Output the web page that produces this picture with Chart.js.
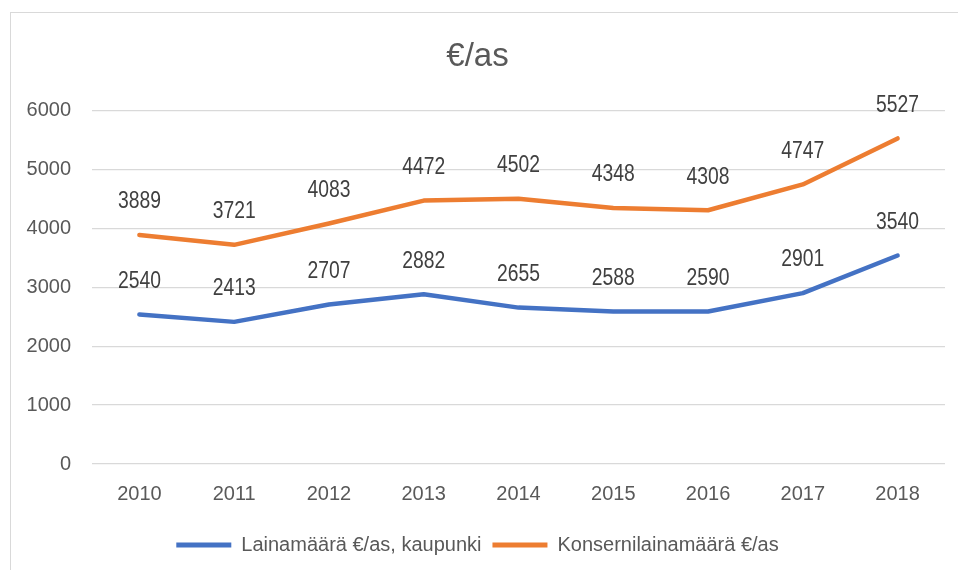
<!DOCTYPE html>
<html>
<head>
<meta charset="utf-8">
<script src="https://cdn.jsdelivr.net/npm/chart.js@4"></script>
<style>
  html, body { margin: 0; padding: 0; background: #fff; }
  #wrap { position: relative; width: 958px; height: 570px; overflow: hidden; }
  #frame { position: absolute; left: 10px; top: 12px; width: 960px; height: 570px; border: 1px solid #d9d9d9; box-sizing: border-box; }
  canvas { position: absolute; left: 0; top: 0; }
</style>
</head>
<body>
<div id="wrap">
  <div id="frame"></div>
  <canvas id="lineChart" width="958" height="570"></canvas>
</div>
<script>
const years = ['2010', '2011', '2012', '2013', '2014', '2015', '2016', '2017', '2018'];
const cityLoan = [2540, 2413, 2707, 2882, 2655, 2588, 2590, 2901, 3540];
const groupLoan = [3889, 3721, 4083, 4472, 4502, 4348, 4308, 4747, 5527];
const yTicks = [0, 1000, 2000, 3000, 4000, 5000, 6000];

const FONT = '"Liberation Sans", Arial, sans-serif';

// Draws the value above each point, like Excel data labels (squeezed to look like a narrow font)
const valueLabels = {
    id: 'valueLabels',
    afterDatasetsDraw(chart) {
        const ctx = chart.ctx;
        chart.data.datasets.forEach((ds, i) => {
            chart.getDatasetMeta(i).data.forEach((pt, j) => {
                ctx.save();
                ctx.translate(pt.x, pt.y - 33);
                ctx.scale(0.84, 1);
                ctx.font = '23px ' + FONT;
                ctx.fillStyle = '#404040';
                ctx.textAlign = 'center';
                ctx.textBaseline = 'middle';
                ctx.fillText(String(ds.data[j]), 0, 0);
                ctx.restore();
            });
        });
    }
};

const ctx = document.getElementById('lineChart').getContext('2d');
new Chart(ctx, {
    type: 'line',
    data: {
        labels: years,
        datasets: [{
            label: 'Lainamäärä €/as, kaupunki',
            data: cityLoan,
            borderColor: '#4472C4',
            backgroundColor: '#4472C4',
            borderWidth: 4.5,
            borderCapStyle: 'round',
            borderJoinStyle: 'round',
            pointRadius: 0,
            tension: 0
        }, {
            label: 'Konsernilainamäärä €/as',
            data: groupLoan,
            borderColor: '#ED7D31',
            backgroundColor: '#ED7D31',
            borderWidth: 4.5,
            borderCapStyle: 'round',
            borderJoinStyle: 'round',
            pointRadius: 0,
            tension: 0
        }]
    },
    options: {
        responsive: false,
        animation: false,
        clip: false,
        layout: { padding: { left: 10, right: 13, top: 0, bottom: 5 } },
        scales: {
            x: {
                offset: true,
                grid: { display: false, drawTicks: false },
                border: { display: false },
                ticks: { color: '#595959', font: { family: FONT, size: 20 }, padding: 18 }
            },
            y: {
                min: 0,
                max: 6000,
                afterFit: s => { s.width = 82; },
                afterBuildTicks: s => { s.ticks = yTicks.map(v => ({ value: v })); },
                grid: { color: '#d9d9d9', lineWidth: 1.3, drawTicks: false },
                border: { display: false },
                ticks: {
                    color: '#595959',
                    font: { family: FONT, size: 20 },
                    padding: 21,
                    callback: v => String(v)
                }
            }
        },
        plugins: {
            title: {
                display: true,
                text: '€/as',
                color: '#595959',
                font: { family: FONT, size: 33, weight: 'normal' },
                padding: { top: 37, bottom: 34 }
            },
            legend: {
                position: 'bottom',
                labels: {
                    color: '#595959',
                    font: { family: FONT, size: 20 },
                    boxWidth: 55,
                    boxHeight: 5,
                    padding: 11,
                    generateLabels: chart => chart.data.datasets.map((ds, i) => ({
                        text: ds.label,
                        fillStyle: ds.borderColor,
                        strokeStyle: ds.borderColor,
                        lineWidth: 0,
                        fontColor: '#595959',
                        datasetIndex: i
                    }))
                }
            },
            tooltip: { enabled: false }
        }
    },
    plugins: [valueLabels]
});
</script>
</body>
</html>
